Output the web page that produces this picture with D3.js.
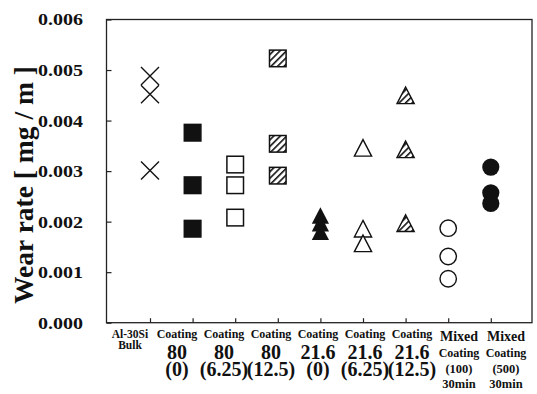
<!DOCTYPE html>
<html>
<head>
<meta charset="utf-8">
<script src="https://cdn.jsdelivr.net/npm/d3@7"></script>
<style>
  body { margin: 0; background: #fff; }
  text { font-family: "Liberation Serif", "Times New Roman", serif; font-weight: bold; fill: #111; }
</style>
</head>
<body>
<div id="chart"></div>
<script>
// category labels, one array per text row under the axis
var row1 = ["Al-30Si", "Coating", "Coating", "Coating", "Coating", "Coating", "Coating", "Mixed", "Mixed"];
var row2 = ["Bulk", "80", "80", "80", "21.6", "21.6", "21.6", "Coating", "Coating"];
var row3 = ["", "(0)", "(6.25)", "(12.5)", "(0)", "(6.25)", "(12.5)", "(100)", "(500)"];
var row4 = ["", "", "", "", "", "", "", "30min", "30min"];

var yTicks = [0, 0.001, 0.002, 0.003, 0.004, 0.005, 0.006];

// wear rate values (mg/m), three runs per sample
var bulk = [0.00488, 0.00452, 0.00301];
var coat80_0 = [0.00376, 0.00272, 0.00186];
var coat80_625 = [0.00313, 0.00272, 0.00208];
var coat80_125 = [0.00523, 0.00354, 0.00291];
var coat216_0 = [0.00212, 0.00197, 0.00180];
var coat216_625 = [0.00346, 0.00186, 0.00157];
var coat216_125 = [0.00450, 0.00343, 0.00197];
var mixed100 = [0.00187, 0.00131, 0.00087];
var mixed500 = [0.00308, 0.00257, 0.00236];

var seriesValues = [bulk, coat80_0, coat80_625, coat80_125, coat216_0, coat216_625, coat216_125, mixed100, mixed500];
var shapes = ["x", "sq", "sq", "sq", "tri", "tri", "tri", "circ", "circ"];
var fills = ["none", "solid", "open", "hatch", "solid", "open", "hatch", "open", "solid"];

var svgWidth = 537;
var svgHeight = 394;
var plot = { left: 106.5, right: 532, top: 19.5, bottom: 322.7 };

var svg = d3.select("#chart")
  .append("svg")
  .attr("width", svgWidth)
  .attr("height", svgHeight);

// diagonal hatch
var pat = svg.append("defs").append("pattern")
  .attr("id", "hatch")
  .attr("patternUnits", "userSpaceOnUse")
  .attr("width", 4.6)
  .attr("height", 4.6)
  .attr("patternTransform", "rotate(45)");
pat.append("rect").attr("width", 4.6).attr("height", 4.6).attr("fill", "#fff");
pat.append("line")
  .attr("x1", 0).attr("y1", 0).attr("x2", 0).attr("y2", 4.6)
  .attr("stroke", "#111").attr("stroke-width", 3.2);

var xScale = d3.scaleLinear()
  .domain([0, 8])
  .range([150, 490.8]);

var labelScale = d3.scaleLinear()
  .domain([0, 8])
  .range([130, 506]);

var yScale = d3.scaleLinear()
  .domain([0, 0.006])
  .range([plot.bottom, plot.top]);

// box
svg.append("rect")
  .attr("x", plot.left)
  .attr("y", plot.top)
  .attr("width", plot.right - plot.left)
  .attr("height", plot.bottom - plot.top)
  .attr("fill", "none")
  .attr("stroke", "#222")
  .attr("stroke-width", 1.3);

var leftAxis = d3.axisLeft(yScale)
  .tickValues(yTicks)
  .tickSize(-5)
  .tickFormat(d3.format(".3f"));

var yAxisG = svg.append("g")
  .attr("transform", `translate(${plot.left}, 0)`)
  .call(leftAxis);
yAxisG.select(".domain").remove();
yAxisG.selectAll("line").attr("stroke", "#222").attr("stroke-width", 1.2);
yAxisG.selectAll("text")
  .attr("x", -23.5 / 1.25)
  .attr("dy", "0.34em")
  .attr("transform", "scale(1.25,1)")
  .style("font-size", "16px")
  .style("font-family", "'Liberation Serif', serif")
  .style("font-weight", "bold")
  .attr("fill", "#111");

var bottomAxis = d3.axisBottom(xScale)
  .tickValues(d3.range(9))
  .tickSize(-4.5)
  .tickFormat("");

var xAxisG = svg.append("g")
  .attr("transform", `translate(0, ${plot.bottom})`)
  .call(bottomAxis);
xAxisG.select(".domain").remove();
xAxisG.selectAll("line").attr("stroke", "#222").attr("stroke-width", 1.2);

// y axis title
svg.append("text")
  .attr("transform", "translate(33, 185) rotate(-90)")
  .attr("text-anchor", "middle")
  .style("font-size", "27.5px")
  .text("Wear rate [ mg / m ]");

// category labels
function label(txt, i, y, size) {
  if (!txt) return;
  svg.append("text")
    .attr("x", labelScale(i))
    .attr("y", y)
    .attr("text-anchor", "middle")
    .style("font-size", size + "px")
    .text(txt);
}
row1.forEach(function(t, i) {
  if (i == 0) label(t, i, 337.5, 11.5);
  else if (i < 7) label(t, i, 337.5, 12);
  else label(t, i, 340.5, 14);
});
// big number + bracket lines kept in one wrapped text
row2.forEach(function(t, i) {
  if (i == 0) label(t, i, 348.5, 11.5);
  else if (i < 7) {
    var tx = svg.append("text")
      .attr("text-anchor", "middle")
      .style("font-size", "20px");
    tx.append("tspan").attr("x", labelScale(i)).attr("y", 358.5).text(t);
    tx.append("tspan").attr("x", labelScale(i)).attr("dy", 17.5).text(row3[i]);
  }
  else label(t, i, 357, 12);
});
row3.forEach(function(t, i) {
  if (i >= 7) label(t, i, 372.5, 12.5);
});
row4.forEach(function(t, i) {
  label(t, i, 387.5, 12.5);
});

// markers
function fillOf(f) {
  if (f == "solid") return "#111";
  if (f == "hatch") return "url(#hatch)";
  return "#fff";
}

seriesValues.forEach(function(vals, i) {
  var g = svg.append("g");
  var pts = g.selectAll("g")
    .data(vals)
    .enter()
    .append("g")
    .attr("transform", d => `translate(${xScale(i)}, ${yScale(d)})`);

  if (shapes[i] == "x") {
    pts.append("path")
      .attr("d", "M-9,-9L9,9M-9,9L9,-9")
      .attr("stroke", "#111")
      .attr("stroke-width", 1.4)
      .attr("fill", "none");
  } else if (shapes[i] == "sq") {
    pts.append("rect")
      .attr("x", -8.3).attr("y", -8.3)
      .attr("width", 16.6).attr("height", 16.6)
      .attr("fill", fillOf(fills[i]))
      .attr("stroke", "#111")
      .attr("stroke-width", 1.5);
  } else if (shapes[i] == "tri") {
    pts.append("path")
      .attr("d", "M0,-8.3L8.6,8.3L-8.6,8.3Z")
      .attr("fill", fillOf(fills[i]))
      .attr("stroke", fills[i] == "solid" ? "none" : "#111")
      .attr("stroke-width", 1.4)
      .attr("stroke-linejoin", "miter");
  } else {
    pts.append("circle")
      .attr("r", fills[i] == "solid" ? 8.6 : 8.2)
      .attr("fill", fillOf(fills[i]))
      .attr("stroke", fills[i] == "solid" ? "none" : "#111")
      .attr("stroke-width", 1.4);
  }
});
</script>
</body>
</html>
